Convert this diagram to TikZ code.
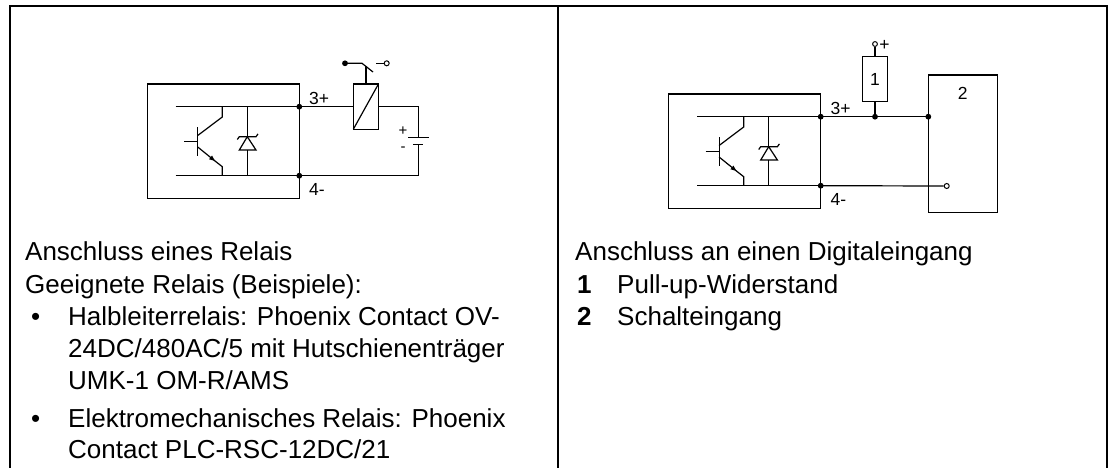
\documentclass[tikz,border=0pt]{standalone}
\usepackage{fontspec}
\setmainfont{Liberation Sans}
\usetikzlibrary{arrows.meta}
\tikzset{
  wire/.style={line width=1.2pt, draw=black},
  frameline/.style={line width=2.2pt, draw=black},
  txt/.style={anchor=base west, inner sep=0pt, font=\fontsize{26}{30}\selectfont},
  lbl/.style={inner sep=0pt, font=\fontsize{17.5}{20}\selectfont},
  jdot/.style={circle, fill=black, inner sep=0pt, minimum size=5.8pt},
  odot/.style={circle, draw=black, fill=white, inner sep=0pt, minimum size=5pt, line width=1pt},
}
\begin{document}
\begin{tikzpicture}[x=1pt,y=-1pt]
\useasboundingbox (0,0) rectangle (1112,468);
% outer frame
\coordinate (fTL) at (10,6);
\coordinate (fTR) at (1106.7,6);
\coordinate (fBL) at (10,470);
\coordinate (fBR) at (1106.7,470);
\coordinate (fTM) at (557.7,6);
\coordinate (fBM) at (557.7,470);
\draw[frameline] (fBL) -- (fTL) -- (fTR) -- (fBR);
\draw[frameline] (fTM) -- (fBM);

% opto output circuits (both panels)
\foreach \s/\dx/\dy in {L/0/0, R/521.4/10} {
\begin{scope}[shift={(\dx,\dy)}]
  \draw[wire] (147.3,84) rectangle (299.3,198.3);
  \node[jdot] (j3\s) at (299.3,106.7) {};
  \node[jdot] (j4\s) at (299.3,175.7) {};
  \coordinate (t\s) at (175.7,106.7);
  \coordinate (b\s) at (175.7,175.7);
  \draw[wire] (t\s) -- (j3\s.center);
  \draw[wire] (b\s) -- (j4\s.center);
  % transistor
  \draw[wire] (197.7,127.3) -- (197.7,156);
  \draw[wire] (184.3,141.5) -- (197.7,141.5);
  \draw[wire] (197.7,135.5) -- (222.3,117) -- (222.3,106.7);
  \draw[wire,-{Latex[length=7pt,width=5pt]}] (197.7,147) -- (216,161.8);
  \draw[wire] (214,160.2) -- (222.3,166.7) -- (222.3,175.7);
  % zener diode
  \draw[wire] (247.3,106.7) -- (247.3,136.7);
  \draw[wire] (247.3,150) -- (247.3,175.7);
  \draw[wire, line join=miter] (239.3,150) -- (256,150) -- (247.3,136.7) -- cycle;
  \draw[wire] (237.3,139.5) -- (239.3,136.7) -- (256,136.7) -- (258,133.9);
  % labels
  \node[lbl, anchor=west] (l3\s) at (309,98) {3+};
  \node[lbl, anchor=west] (l4\s) at (309,189) {4-};
\end{scope}
}

% ---- left panel: relay
\draw[wire] (353.3,84) rectangle (378.3,129.3);
\coordinate (coilL) at (353.3,106.7);
\coordinate (coilR) at (378.3,106.7);
\draw[wire] (353.3,129.3) -- (378.3,84.3);
\draw[wire] (j3L.center) -- (coilL);
\draw[wire] (coilR) -- (418.3,106.7) -- (418.3,137.7);
\draw[wire] (408.3,137.7) -- (429,137.7);
\draw[wire] (413.3,144.3) -- (423.3,144.3);
\draw[wire] (418.3,144.3) -- (418.3,175.7) -- (j4L.center);
\node[lbl, font=\fontsize{15}{16}\selectfont] (bplus) at (403,131.5) {+};
\node[lbl, font=\fontsize{15}{16}\selectfont] (bminus) at (403,149.5) {-};
% relay contact
\node[jdot] (swA) at (345,63.3) {};
\node[odot] (swB) at (386.7,63.3) {};
\draw[wire] (swA.center) -- (362,63.3) -- (373,72);
\draw[wire] (366,84) -- (366,66.5);
\draw[wire] (376,63.3) -- (swB.west);

% ---- right panel: digital input
\node[jdot] (jR1) at (875,116.7) {};
\node[jdot] (jR2) at (928.3,116.7) {};
\draw[wire] (j3R.center) -- (jR1.center) -- (jR2.center);
\node[wire, draw, rectangle, minimum width=25pt, minimum height=45pt, inner sep=0pt, font=\fontsize{17.5}{20}\selectfont] (res) at (875,79.2) {1};
\draw[wire] (res.south) -- (jR1.center);
\node[odot, minimum size=4.8pt] (vplus) at (875,44) {};
\draw[wire] (res.north) -- (vplus.south);
\node[lbl] (plusR) at (884.5,45) {+};
\draw[wire] (928.3,75) rectangle (997.3,212.3);
\node[lbl] (in2) at (962.7,93) {2};
\node[odot] (inpt) at (946.7,186) {};
\draw[wire] (j4R.center) -- (inpt.west);

% ---- texts left
\node[txt] (tl1) at (25,260) {Anschluss eines Relais};
\node[txt] (tl2) at (25,293) {Geeignete Relais (Beispiele):};
\node[txt] (bu1) at (31,325) {•};
\node[txt] (tl3) at (68,325) {Halbleiterrelais: Phoenix Contact OV-};
\node[txt] (tl4) at (68,357) {24DC/480AC/5 mit Hutschienenträger};
\node[txt] (tl5) at (68,389) {UMK-1 OM-R/AMS};
\node[txt] (bu2) at (31,427) {•};
\node[txt] (tl6) at (68,427) {Elektromechanisches Relais: Phoenix};
\node[txt] (tl7) at (68,458) {Contact PLC-RSC-12DC/21};

% ---- texts right
\node[txt] (tr1) at (575,260) {Anschluss an einen Digitaleingang};
\node[txt, font=\fontsize{26}{30}\selectfont\bfseries] (n1) at (577,293) {1};
\node[txt] (tr2) at (617,293) {Pull-up-Widerstand};
\node[txt, font=\fontsize{26}{30}\selectfont\bfseries] (n2) at (577,325) {2};
\node[txt] (tr3) at (617,325) {Schalteingang};
\end{tikzpicture}
\end{document}
